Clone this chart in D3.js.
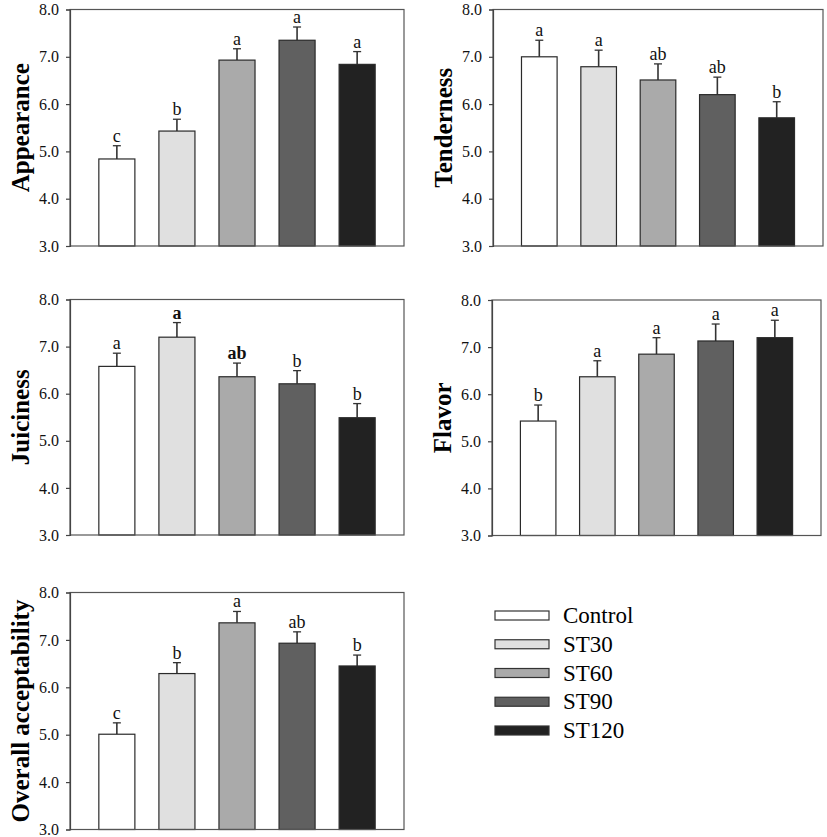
<!DOCTYPE html>
<html>
<head>
<meta charset="utf-8">
<script src="https://cdn.jsdelivr.net/npm/d3@7"></script>
<style>
  html, body { margin: 0; padding: 0; background: #fff; }
  svg { display: block; }
</style>
</head>
<body>
<svg id="chart" width="827" height="837"></svg>
<script>
// ---- data ----
const categories = ["Control", "ST30", "ST60", "ST90", "ST120"];
const yTicks = [3.0, 4.0, 5.0, 6.0, 7.0, 8.0];

const appearance = [4.84, 5.43, 6.93, 7.35, 6.84];
const appearanceErr = [0.28, 0.25, 0.24, 0.28, 0.27];
const appearanceLetters = ["c", "b", "a", "a", "a"];

const tenderness = [7.00, 6.79, 6.51, 6.20, 5.71];
const tendernessErr = [0.35, 0.35, 0.34, 0.37, 0.34];
const tendernessLetters = ["a", "a", "ab", "ab", "b"];

const juiciness = [6.58, 7.20, 6.36, 6.21, 5.49];
const juicinessErr = [0.28, 0.31, 0.29, 0.28, 0.30];
const juicinessLetters = ["a", "a", "ab", "b", "b"];

const flavor = [5.43, 6.37, 6.85, 7.13, 7.20];
const flavorErr = [0.34, 0.34, 0.35, 0.36, 0.37];
const flavorLetters = ["b", "a", "a", "a", "a"];

const overall = [5.01, 6.29, 7.36, 6.93, 6.45];
const overallErr = [0.24, 0.23, 0.24, 0.24, 0.23];
const overallLetters = ["c", "b", "a", "ab", "b"];

const colors = ["#ffffff", "#e0e0e0", "#aaaaaa", "#606060", "#222222"];

const SERIF = "'Liberation Serif', 'Times New Roman', Times, serif";

// ---- layout ----
const panels = [
  { title: "Appearance", values: appearance, err: appearanceErr, letters: appearanceLetters, boldLetters: [], x0: 70, x1: 404, y0: 9.5, y1: 246 },
  { title: "Tenderness", values: tenderness, err: tendernessErr, letters: tendernessLetters, boldLetters: [], x0: 493, x1: 823, y0: 9.5, y1: 246 },
  { title: "Juiciness", values: juiciness, err: juicinessErr, letters: juicinessLetters, boldLetters: [1, 2], x0: 70, x1: 404, y0: 299.5, y1: 535 },
  { title: "Flavor", values: flavor, err: flavorErr, letters: flavorLetters, boldLetters: [], x0: 492, x1: 821, y0: 300, y1: 535.5 },
  { title: "Overall acceptability", values: overall, err: overallErr, letters: overallLetters, boldLetters: [], x0: 70, x1: 404, y0: 592.5, y1: 829.5 }
];

const svg = d3.select("#chart");

panels.forEach(p => {
  const g = svg.append("g");
  const x = d3.scaleBand().domain(categories).range([p.x0, p.x1])
    .paddingInner(0.4).paddingOuter(0.48);
  const y = d3.scaleLinear().domain([3, 8]).range([p.y1, p.y0]);

  // error bars (upper only)
  const eb = g.append("g");
  categories.forEach((c, i) => {
    const cx = x(c) + x.bandwidth() / 2;
    eb.append("line")
      .attr("x1", cx).attr("x2", cx)
      .attr("y1", y(p.values[i])).attr("y2", y(p.values[i] + p.err[i]))
      .attr("stroke", "#333").attr("stroke-width", 1.6);
    eb.append("line")
      .attr("x1", cx - 4).attr("x2", cx + 4)
      .attr("y1", y(p.values[i] + p.err[i])).attr("y2", y(p.values[i] + p.err[i]))
      .attr("stroke", "#333").attr("stroke-width", 1.3);
  });

  // bars
  g.append("g").selectAll("rect").data(categories).join("rect")
    .attr("x", c => x(c))
    .attr("width", x.bandwidth())
    .attr("y", (c, i) => y(p.values[i]))
    .attr("height", (c, i) => y(3) - y(p.values[i]))
    .attr("fill", (c, i) => colors[i])
    .attr("stroke", "#2a2a2a").attr("stroke-width", 1.2);

  // significance letters
  g.append("g").selectAll("text").data(categories).join("text")
    .attr("x", c => x(c) + x.bandwidth() / 2)
    .attr("y", (c, i) => y(p.values[i] + p.err[i]) - 4)
    .attr("text-anchor", "middle")
    .attr("font-family", SERIF)
    .attr("font-size", 18)
    .attr("font-weight", (c, i) => p.boldLetters.includes(i) ? "bold" : "normal")
    .attr("fill", "#111")
    .text((c, i) => p.letters[i]);

  // frame
  g.append("rect")
    .attr("x", p.x0).attr("y", p.y0)
    .attr("width", p.x1 - p.x0).attr("height", p.y1 - p.y0)
    .attr("fill", "none").attr("stroke", "#555").attr("stroke-width", 1.2);

  // y axis
  const ax = g.append("g")
    .attr("transform", `translate(${p.x0},0)`)
    .call(d3.axisLeft(y).tickValues(yTicks).tickFormat(d3.format(".1f"))
      .tickSize(4).tickPadding(7));
  ax.attr("font-family", SERIF);
  ax.select(".domain").attr("stroke", "#444").attr("stroke-width", 1.2);
  ax.selectAll(".tick line").attr("stroke", "#444").attr("stroke-width", 1.2);
  ax.selectAll(".tick text")
    .attr("font-family", SERIF)
    .attr("font-size", 16).attr("fill", "#111");

  // y title
  const cy = (p.y0 + p.y1) / 2;
  g.append("text")
    .attr("transform", `translate(${p.x0 - 50},${cy}) rotate(-90)`)
    .attr("text-anchor", "middle")
    .attr("dominant-baseline", "central")
    .attr("font-family", SERIF)
    .attr("font-size", 25).attr("font-weight", "bold").attr("fill", "#000")
    .text(p.title);
});

// legend
const legend = svg.append("g");
const ly = d3.scalePoint().domain(categories).range([615.5, 730.5]);
legend.selectAll("rect").data(categories).join("rect")
  .attr("x", 495).attr("y", c => ly(c) - 4.5)
  .attr("width", 54).attr("height", 9)
  .attr("fill", (c, i) => colors[i])
  .attr("stroke", "#333").attr("stroke-width", 1.2);
legend.selectAll("text").data(categories).join("text")
  .attr("x", 563).attr("y", c => ly(c))
  .attr("dominant-baseline", "central")
  .attr("font-family", SERIF)
  .attr("font-size", 23).attr("fill", "#000")
  .text(c => c);
</script>
</body>
</html>
